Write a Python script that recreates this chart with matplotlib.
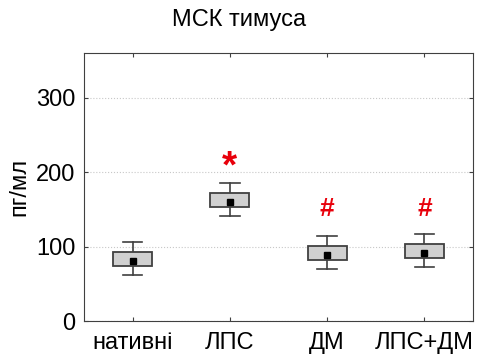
import matplotlib.pyplot as plt
from matplotlib.patches import Rectangle

plt.rcParams["font.family"] = ["Liberation Sans", "DejaVu Sans"]

# Group labels and box statistics (пг/мл)
GROUPS = ["нативні", "ЛПС", "ДМ", "ЛПС+ДМ"]
MEANS = [80.5, 160, 88.6, 90.8]
BOX_LOW = [73.8, 153.5, 82, 84.1]
BOX_HIGH = [92.6, 172, 101, 103.4]
WHISK_LOW = [61.7, 141, 69.8, 72]
WHISK_HIGH = [106, 185.7, 114.5, 116.8]

# Significance marks above the groups
MARKS = ["", "*", "#", "#"]
MARK_Y = [0, 206, 150, 150]

Y_TICKS = [0, 100, 200, 300]

fig = plt.figure(figsize=(4.78, 3.59), dpi=100)
ax = fig.add_axes([84 / 478, 1 - 321 / 359, (473 - 84) / 478, (321 - 53) / 359])

edge = "#404040"
for i, name in enumerate(GROUPS):
    x = i + 1
    ax.plot([x, x], [WHISK_LOW[i], BOX_LOW[i]], color=edge, lw=1.2, zorder=2)
    ax.plot([x, x], [BOX_HIGH[i], WHISK_HIGH[i]], color=edge, lw=1.2, zorder=2)
    ax.plot([x - 0.1, x + 0.1], [WHISK_LOW[i]] * 2, color=edge, lw=1.2, zorder=2)
    ax.plot([x - 0.1, x + 0.1], [WHISK_HIGH[i]] * 2, color=edge, lw=1.2, zorder=2)
    ax.add_patch(Rectangle((x - 0.2, BOX_LOW[i]), 0.4, BOX_HIGH[i] - BOX_LOW[i],
                           facecolor="#d0d0d0", edgecolor=edge, lw=1.3, zorder=3))
    ax.plot(x, MEANS[i], marker="s", color="black", markersize=5, zorder=4)
    if MARKS[i] == "*":
        ax.text(x, MARK_Y[i], "*", color="#e8000b", fontsize=28, fontweight="bold",
                ha="center", va="center")
    elif MARKS[i]:
        ax.text(x, MARK_Y[i], MARKS[i], color="#e8000b", fontsize=19, fontweight="bold",
                ha="center", va="center")

ax.set_xlim(0.5, 4.5)
ax.set_ylim(0, 360)
ax.set_xticks(range(1, len(GROUPS) + 1))
ax.set_xticklabels(GROUPS)
ax.set_yticks(Y_TICKS)
ax.tick_params(direction="in", top=True, right=True, labelsize=17, length=3,
               color="#404040")
ax.tick_params(axis="x", pad=8)
ax.tick_params(axis="y", pad=6)
for s in ax.spines.values():
    s.set_color("#404040")
ax.yaxis.grid(True, linestyle=":", color="#c8c8c8", lw=0.8)
ax.set_axisbelow(True)

ax.set_ylabel("пг/мл", fontsize=17, labelpad=4)
fig.text(0.5, 0.944, "МСК тимуса", fontsize=17, ha="center", va="center")

fig.savefig("out.png", dpi=100)
